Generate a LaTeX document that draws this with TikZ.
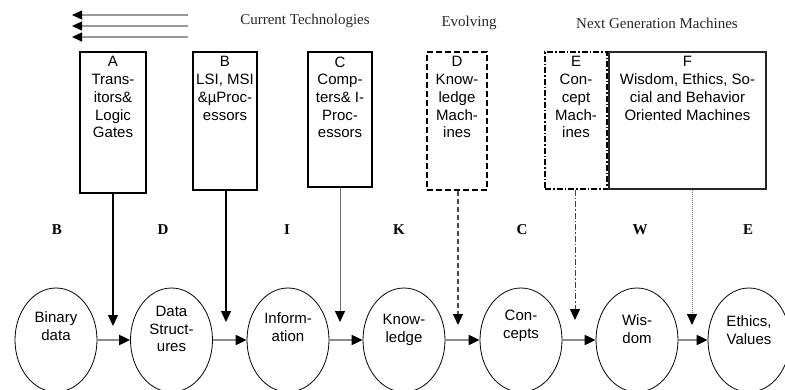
\documentclass[tikz,border=0pt]{standalone}
\usepackage{fontspec}
\setmainfont{Liberation Serif}
\setsansfont{Liberation Sans}
\usetikzlibrary{positioning,arrows.meta,shapes.geometric}
\newcommand{\boxfont}{\sffamily\fontsize{15}{17.7}\selectfont}
\newcommand{\headfont}{\rmfamily\fontsize{15}{18}\selectfont}
\newcommand{\letterfont}{\rmfamily\bfseries\fontsize{15}{18}\selectfont}
\tikzset{
  techbox/.style={rectangle, draw, line width=1.1pt, inner sep=0pt},
  boxtext/.style={font=\boxfont, align=center, inner sep=0pt},
  stage/.style={ellipse, draw, line width=0.8pt, minimum width=82pt, minimum height=104pt, inner sep=0pt},
  stagetext/.style={font=\boxfont, align=center, inner sep=0pt},
  heading/.style={font=\headfont, text=black!85},
  letter/.style={font=\letterfont},
  tip/.style={-{Triangle[length=11pt,width=10pt,black]}},
  feed/.style={tip, line width=1.2pt},
  flow/.style={tip, draw=black!45, line width=2pt},
  back/.style={-{Triangle[length=10pt,width=9pt,black]}, draw=black!40, line width=1.3pt},
}
\begin{document}
\begin{tikzpicture}[x=1pt,y=-1pt]
  \useasboundingbox (0,0) rectangle (785,389);

  % headings and the backward arrows
  \node[heading] (cur) at (305,21) {Current Technologies};
  \node[heading] (evo) at (469,23) {Evolving};
  \node[heading] (nxt) at (657,23) {Next Generation Machines};
  \foreach \y/\n in {15/1,26/2,37/3} {
    \coordinate (bs\n) at (188,\y);
    \coordinate (be\n) at (72,\y);
    \draw[back] (bs\n) -- (be\n);
  }

  % technology boxes
  \node[techbox, minimum width=66, minimum height=141] (boxA) at (113,122.5) {};
  \node[techbox, minimum width=64, minimum height=138] (boxB) at (225,121) {};
  \node[techbox, minimum width=64, minimum height=135] (boxC) at (340,119.5) {};
  \node[techbox, dash pattern=on 6pt off 3pt, minimum width=60, minimum height=138] (boxD) at (457,121) {};
  \node[techbox, dash pattern=on 6pt off 2pt on 1.5pt off 2pt, minimum width=62, minimum height=137] (boxE) at (576,120.5) {};
  \node[techbox, draw=black!85, minimum width=157, minimum height=137] (boxF) at (687.5,120.5) {};

  \node[boxtext, below=5pt of boxA.north] (txtA) {A\\Trans-\\itors\&\\Logic\\Gates};
  \node[boxtext, below=5pt of boxB.north] (txtB) {B\\LSI, MSI\\\&µProc-\\essors};
  \node[boxtext, below=5pt of boxC.north] (txtC) {C\\Comp-\\ters\& I-\\Proc-\\essors};
  \node[boxtext, below=5pt of boxD.north] (txtD) {D\\Know-\\ledge\\Mach-\\ines};
  \node[boxtext, below=5pt of boxE.north] (txtE) {E\\Con-\\cept\\Mach-\\ines};
  \node[boxtext, below=5pt of boxF.north] (txtF) {F\\Wisdom, Ethics, So-\\cial and Behavior\\Oriented Machines};

  % letters
  \node[letter] (lB) at (57,230) {B};
  \node[letter] (lD) at (163,230) {D};
  \node[letter] (lI) at (287,230) {I};
  \node[letter] (lK) at (399,230) {K};
  \node[letter] (lC) at (522,230) {C};
  \node[letter] (lW) at (640,230) {W};
  \node[letter] (lE) at (748,230) {E};

  % stages
  \node[stage] (bin) at (56,340) {};
  \node[stage] (dat) at (171.5,340) {};
  \node[stage] (inf) at (288,340) {};
  \node[stage] (kno) at (404,340) {};
  \node[stage] (con) at (521,340) {};
  \node[stage] (wis) at (637,340) {};
  \node[stage] (eth) at (749,340) {};

  \node[stagetext] (binT) at ([yshift=14pt]bin.center) {Binary\\data};
  \node[stagetext] (datT) at ([yshift=11pt]dat.center) {Data\\Struct-\\ures};
  \node[stagetext] (infT) at ([yshift=13pt]inf.center) {Inform-\\ation};
  \node[stagetext] (knoT) at ([yshift=10pt]kno.center) {Know-\\ledge};
  \node[stagetext] (conT) at ([yshift=14pt]con.center) {Con-\\cepts};
  \node[stagetext] (wisT) at ([yshift=11pt]wis.center) {Wis-\\dom};
  \node[stagetext] (ethT) at ([yshift=10pt]eth.center) {Ethics,\\Values};

  \draw[flow] (bin) -- (dat);
  \draw[flow] (dat) -- (inf);
  \draw[flow] (inf) -- (kno);
  \draw[flow] (kno) -- (con);
  \draw[flow] (con) -- (wis);
  \draw[flow] (wis) -- (eth);

  % feeds from the boxes
  \coordinate (inA) at (113,326);
  \coordinate (inB) at (226,322);
  \coordinate (inC) at (340,322);
  \coordinate (inD) at (458,325);
  \coordinate (inE) at (575,320);
  \coordinate (inF) at (692,325);
  \draw[feed] (boxA.south -| inA) -- (inA);
  \draw[feed] (boxB.south -| inB) -- (inB);
  \draw[tip, draw=black!55, line width=0.8pt] (boxC.south -| inC) -- (inC);
  \draw[tip, draw=black!70, line width=1.1pt, dash pattern=on 5pt off 3pt] (boxD.south -| inD) -- (inD);
  \draw[tip, draw=black!75, line width=1pt, dash pattern=on 6pt off 2pt on 1.5pt off 2pt] (boxE.south -| inE) -- (inE);
  \draw[tip, draw=black!55, line width=0.9pt, dash pattern=on 1pt off 1pt] (boxF.south -| inF) -- (inF);
\end{tikzpicture}
\end{document}
